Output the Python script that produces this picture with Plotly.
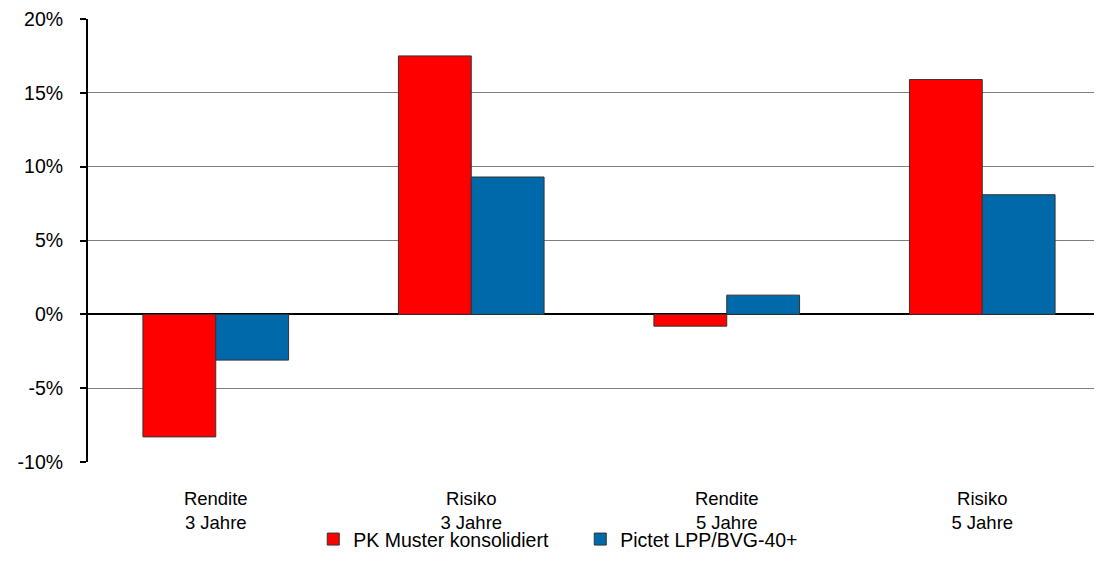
import plotly.graph_objects as go

categories = ["Rendite<br>3 Jahre", "Risiko<br>3 Jahre", "Rendite<br>5 Jahre", "Risiko<br>5 Jahre"]
pk_muster = [-8.3, 17.5, -0.8, 15.9]
pictet = [-3.1, 9.3, 1.3, 8.1]
series_names = ["PK Muster konsolidiert", "Pictet LPP/BVG-40+"]
y_ticks = [-10, -5, 0, 5, 10, 15, 20]
y_tick_labels = ["-10%", "-5%", "0%", "5%", "10%", "15%", "20%"]

FONT = "Liberation Sans, Arial, sans-serif"
FS = 19.5

fig = go.Figure()
fig.add_trace(go.Bar(x=categories, y=pk_muster, name=series_names[0],
                     marker=dict(color="#FF0000", line=dict(color="#333333", width=1))))
fig.add_trace(go.Bar(x=categories, y=pictet, name=series_names[1],
                     marker=dict(color="#0069AA", line=dict(color="#333333", width=1))))

fig.update_layout(
    width=1102, height=572,
    margin=dict(l=80, r=0, t=11, b=118, autoexpand=False),
    paper_bgcolor="white", plot_bgcolor="white",
    font=dict(family=FONT, size=FS, color="black"),
    barmode="group", bargap=0.43, bargroupgap=0,
    showlegend=True,
    legend=dict(orientation="h", xref="container", yref="container",
                x=0.277, xanchor="left", y=0.071, yanchor="middle",
                bgcolor="rgba(0,0,0,0)",
                font=dict(size=FS), itemwidth=30, traceorder="normal",
                entrywidth=222, entrywidthmode="pixels"),
)
fig.update_xaxes(automargin=False, showgrid=False, showline=False, ticks="",
                 tickfont=dict(size=18.5), ticklabelstandoff=23)
fig.update_yaxes(automargin=False, range=[-10, 20], tickvals=y_ticks, ticktext=y_tick_labels,
                 showgrid=True, gridcolor="#7f7f7f", gridwidth=1,
                 zeroline=True, zerolinecolor="black", zerolinewidth=2,
                 showline=True, linecolor="black", linewidth=2,
                 ticks="outside", ticklen=6, tickwidth=2, tickcolor="black",
                 ticklabelstandoff=13, ticklabeloverflow="allow", tickfont=dict(size=FS))

fig.write_html("out.html")
